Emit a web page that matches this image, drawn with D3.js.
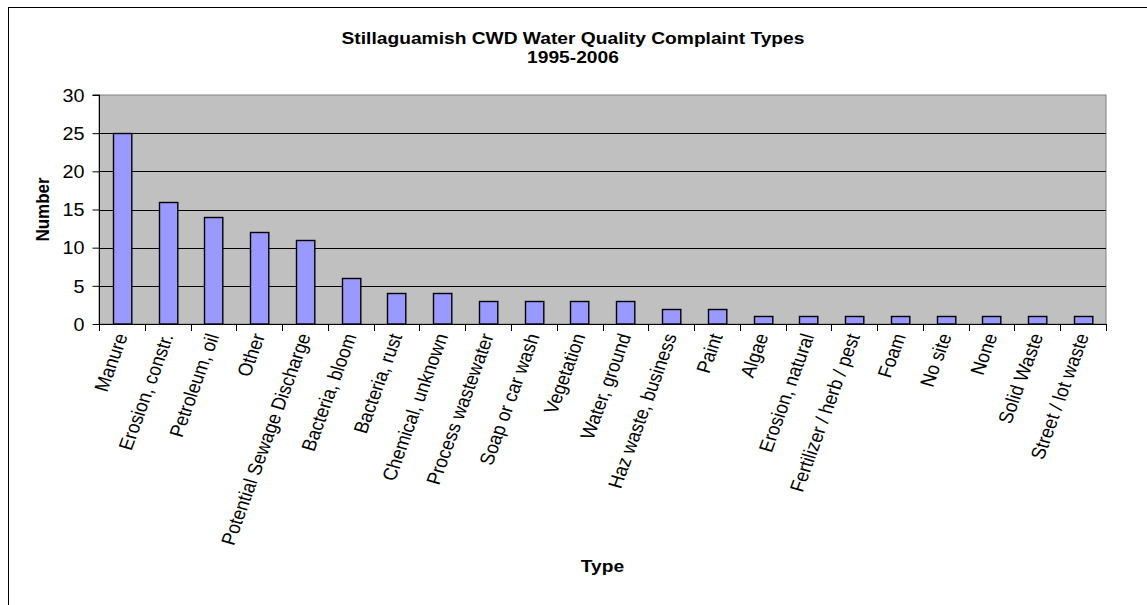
<!DOCTYPE html>
<html>
<head>
<meta charset="utf-8">
<script src="https://cdn.jsdelivr.net/npm/d3@7"></script>
<style>
  html, body { margin: 0; padding: 0; background: #fff; }
  svg { display: block; }
  text { font-family: "Liberation Sans", Arial, sans-serif; fill: #000; }
</style>
</head>
<body>
<svg id="chart" width="1147" height="605"></svg>
<script>
const categories = ["Manure", "Erosion, constr.", "Petroleum, oil", "Other", "Potential Sewage Discharge",
  "Bacteria, bloom", "Bacteria, rust", "Chemical, unknown", "Process wastewater", "Soap or car wash",
  "Vegetation", "Water, ground", "Haz waste, business", "Paint", "Algae", "Erosion, natural",
  "Fertilizer / herb / pest", "Foam", "No site", "None", "Solid Waste", "Street / lot waste"];
const values = [25, 16, 14, 12, 11, 6, 4, 4, 3, 3, 3, 3, 2, 2, 1, 1, 1, 1, 1, 1, 1, 1];
const yTicks = [0, 5, 10, 15, 20, 25, 30];
const titleLines = ["Stillaguamish CWD Water Quality Complaint Types", "1995-2006"];
const xTitle = "Type";
const yTitle = "Number";

const W = 1147, H = 605;
const plot = { left: 99, right: 1106, top: 95, bottom: 324 };
const SX = 1.13; // horizontal stretch of the original picture's text

const svg = d3.select("#chart");

// outer chart border (right/bottom fall outside the picture)
svg.append("rect").attr("x", 8.5).attr("y", 7.5).attr("width", 1300).attr("height", 800)
  .attr("fill", "#fff").attr("stroke", "#000").attr("stroke-width", 1);

const x = d3.scaleBand().domain(categories).range([plot.left, plot.right])
  .paddingInner(0.6).paddingOuter(0.3);
const y = d3.scaleLinear().domain([0, 30]).range([plot.bottom, plot.top]);

// plot area
svg.append("rect").attr("x", plot.left).attr("y", plot.top)
  .attr("width", plot.right - plot.left).attr("height", plot.bottom - plot.top)
  .attr("fill", "#C0C0C0").attr("stroke", "#808080").attr("stroke-width", 1);

// gridlines
svg.append("g").selectAll("line").data(yTicks.filter(d => d > 0 && d < 30)).join("line")
  .attr("x1", plot.left).attr("x2", plot.right)
  .attr("y1", d => Math.round(y(d)) + 0.5).attr("y2", d => Math.round(y(d)) + 0.5)
  .attr("stroke", "#000").attr("stroke-width", 1);

// bars
svg.append("g").selectAll("rect").data(values).join("rect")
  .attr("x", (d, i) => Math.round(x(categories[i])) + 0.5)
  .attr("y", d => Math.round(y(d)) + 0.5)
  .attr("width", x.bandwidth())
  .attr("height", d => y(0) - Math.round(y(d)) - 0.5)
  .attr("fill", "#9999FF").attr("stroke", "#000").attr("stroke-width", 1.4);

// y axis
const yAxis = d3.axisLeft(y).tickValues(yTicks).tickSize(7).tickPadding(6).tickFormat(d3.format("d"));
const gy = svg.append("g").attr("transform", `translate(${plot.left + 0.5},0)`).call(yAxis);
gy.select(".domain").attr("stroke", "#000").attr("d", `M-7,${plot.top}H0V${plot.bottom}`);
gy.selectAll(".tick line").attr("stroke", "#000");
gy.selectAll(".tick text").attr("font-size", 17.5).attr("font-family", "Liberation Sans, Arial, sans-serif")
  .attr("text-anchor", "end").attr("dy", "0.36em").attr("x", null)
  .attr("transform", `translate(-15,0) scale(${SX},1)`);

// x axis line + ticks between categories
const step = x.step();
const boundaries = d3.range(categories.length + 1).map(i => plot.left + i * step);
svg.append("line").attr("x1", plot.left).attr("x2", plot.right)
  .attr("y1", plot.bottom + 0.5).attr("y2", plot.bottom + 0.5).attr("stroke", "#000");
svg.append("g").selectAll("line").data(boundaries).join("line")
  .attr("x1", d => Math.round(d) + 0.5).attr("x2", d => Math.round(d) + 0.5)
  .attr("y1", plot.bottom).attr("y2", plot.bottom + 7).attr("stroke", "#000");

// x labels
svg.append("g").selectAll("text").data(categories).join("text")
  .attr("text-anchor", "end").attr("font-size", 17.6)
  .attr("transform", d => `translate(${x(d) + x.bandwidth() / 2 + 6},336) scale(${SX},1) rotate(-72)`)
  .text(d => d);

// titles
svg.append("text").attr("text-anchor", "middle").attr("font-size", 17).attr("font-weight", "bold")
  .attr("transform", `translate(573,44) scale(${SX},1)`).text(titleLines[0]);
svg.append("text").attr("text-anchor", "middle").attr("font-size", 17).attr("font-weight", "bold")
  .attr("transform", `translate(573,63) scale(${SX},1)`).text(titleLines[1]);

svg.append("text").attr("text-anchor", "middle").attr("font-size", 17).attr("font-weight", "bold")
  .attr("transform", `translate(${(plot.left + plot.right) / 2},572) scale(${SX},1)`).text(xTitle);
svg.append("text").attr("text-anchor", "middle").attr("font-size", 17).attr("font-weight", "bold")
  .attr("transform", `translate(49,${(plot.top + plot.bottom) / 2}) scale(${SX},1) rotate(-90)`).text(yTitle);
</script>
</body>
</html>
